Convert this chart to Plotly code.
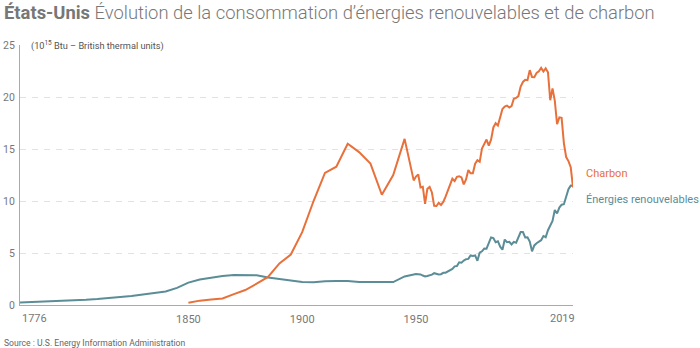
import plotly.graph_objects as go

# Renewable energy consumption (quadrillion Btu)
renew_years = [1776, 1780, 1785, 1790, 1795, 1800, 1805, 1810, 1815, 1820, 1825,
               1830, 1835, 1840, 1845, 1850, 1855, 1860, 1865, 1870, 1875, 1880,
               1885, 1890, 1895, 1900, 1905, 1910, 1915, 1920, 1925, 1930, 1935,
               1940, 1945] + list(range(1949, 2020))
renew_values = [0.25, 0.28, 0.31, 0.35, 0.40, 0.45, 0.51, 0.58, 0.66, 0.75, 0.87,
                1.00, 1.13, 1.30, 1.65, 2.15, 2.45, 2.64, 2.78, 2.88, 2.90, 2.85,
                2.65, 2.50, 2.35, 2.22, 2.18, 2.28, 2.30, 2.30, 2.20, 2.18, 2.18,
                2.20, 2.75,
                2.974, 2.978, 2.958, 2.940, 2.831, 2.754, 2.784, 2.850, 2.915, 3.058,
                3.000, 2.929, 2.961, 3.093, 3.102, 3.231, 3.398, 3.467, 3.717, 3.741,
                4.104, 4.070, 4.268, 4.398, 4.433, 4.769, 4.723, 4.768, 4.249, 5.039,
                5.166, 5.428, 5.414, 5.980, 6.496, 6.430, 6.033, 6.132, 5.605, 5.321,
                6.294, 6.040, 6.069, 5.820, 6.069, 5.989, 6.558, 7.014, 7.016, 6.493,
                6.516, 6.102, 5.163, 5.729, 5.943, 6.066, 6.230, 6.637, 6.519, 7.191,
                7.597, 8.090, 9.128, 8.797, 9.373, 9.643, 9.691, 10.359, 11.128, 11.476,
                11.461]

# Coal consumption (quadrillion Btu)
coal_years = [1850, 1855, 1860, 1865, 1870, 1875, 1880, 1885, 1890, 1895, 1900,
              1905, 1910, 1915, 1920, 1925, 1930, 1935, 1940, 1945] + list(range(1949, 2020))
coal_values = [0.22, 0.42, 0.52, 0.63, 1.05, 1.44, 2.05, 2.70, 4.00, 4.85, 7.00,
               10.0, 12.7, 13.3, 15.5, 14.7, 13.6, 10.6, 12.5, 15.97,
               11.981, 12.347, 12.553, 11.306, 11.373, 9.715, 11.167, 11.350, 10.821, 9.533,
               9.518, 9.838, 9.623, 9.906, 10.413, 10.964, 11.581, 12.143, 11.914, 12.331,
               12.382, 12.265, 11.598, 12.077, 12.971, 12.663, 12.663, 13.584, 13.922, 13.766,
               15.040, 15.423, 15.908, 15.322, 15.894, 17.071, 17.478, 17.260, 18.008, 18.846,
               19.070, 19.173, 18.992, 19.122, 19.835, 19.909, 20.089, 21.002, 21.445, 21.656,
               21.623, 22.580, 21.914, 21.904, 22.321, 22.466, 22.797, 22.447, 22.749, 22.385,
               19.692, 20.834, 19.658, 17.378, 18.039, 17.998, 15.549, 14.226, 13.837, 13.253,
               11.3]

x_ticks = [1850, 1900, 1950]
x_edge_labels = [1776, 2019]
y_ticks = [0, 5, 10, 15, 20, 25]

ORANGE = "#E8703A"
TEAL = "#5B8D97"
FONT = "Roboto"

fig = go.Figure()
fig.add_trace(go.Scatter(x=renew_years, y=renew_values, mode="lines",
                         line=dict(color=TEAL, width=2), hoverinfo="skip"))
fig.add_trace(go.Scatter(x=coal_years, y=coal_values, mode="lines",
                         line=dict(color=ORANGE, width=2), hoverinfo="skip"))

annotations = []
# end-of-axis year labels kept inside the plot edges
annotations.append(dict(x=x_edge_labels[0], y=0, xref="x", yref="y", text=str(x_edge_labels[0]),
                        xanchor="left", yanchor="top", yshift=-5, showarrow=False,
                        font=dict(family=FONT, size=11, color="#777")))
annotations.append(dict(x=x_edge_labels[1], y=0, xref="x", yref="y", text=str(x_edge_labels[1]),
                        xanchor="right", yanchor="top", yshift=-5, xshift=4, showarrow=False,
                        font=dict(family=FONT, size=11, color="#777")))
# series labels
annotations.append(dict(x=2019, y=coal_values[-1], xref="x", yref="y", text="Charbon",
                        xanchor="left", yanchor="middle", xshift=11, yshift=14, showarrow=False,
                        font=dict(family=FONT, size=11, color=ORANGE)))
annotations.append(dict(x=2019, y=renew_values[-1], xref="x", yref="y", text="Énergies renouvelables",
                        xanchor="left", yanchor="middle", xshift=11, yshift=-14, showarrow=False,
                        font=dict(family=FONT, size=11, color=TEAL)))
# unit note
annotations.append(dict(x=0, y=25, xref="paper", yref="y", xshift=9,
                        text="(10<sup>15</sup> Btu – British thermal units)",
                        xanchor="left", yanchor="middle", showarrow=False, bgcolor="white",
                        font=dict(family=FONT, size=9.2, color="#555")))
# source
annotations.append(dict(x=0, y=-38 / 260, xref="paper", yref="paper", xshift=-18,
                        text="Source : U.S. Energy Information Administration",
                        xanchor="left", yanchor="middle", showarrow=False,
                        font=dict(family=FONT, size=8.6, color="#666")))

fig.update_layout(
    width=700, height=348,
    margin=dict(l=20, r=127, t=45, b=43),
    paper_bgcolor="white", plot_bgcolor="white",
    showlegend=False,
    title=dict(
        text="<b>États-Unis</b> Évolution de la consommation d’énergies renouvelables et de charbon",
        x=4 / 700, xref="container", xanchor="left",
        y=1 - 13 / 348, yref="container", yanchor="middle",
        font=dict(family=FONT, size=18.4, color="#777", weight=300),
    ),
    xaxis=dict(range=[1776, 2019], tickvals=x_ticks, ticktext=[str(v) for v in x_ticks],
               showgrid=False, zeroline=False, showline=True, linecolor="#aaa", linewidth=1,
               ticks="outside", ticklen=4, tickcolor="rgba(0,0,0,0)", automargin=False,
               tickfont=dict(family=FONT, size=11, color="#777")),
    yaxis=dict(range=[0, 25], tickvals=y_ticks, showgrid=True, gridcolor="#e2e2e2",
               griddash="6px,6px", gridwidth=1, zeroline=False, showline=True,
               linecolor="#aaa", linewidth=1, ticks="outside", ticklen=2,
               tickcolor="rgba(0,0,0,0)", automargin=False,
               tickfont=dict(family=FONT, size=10.5, color="#777")),
    annotations=annotations,
)

fig.write_html("out.html")
